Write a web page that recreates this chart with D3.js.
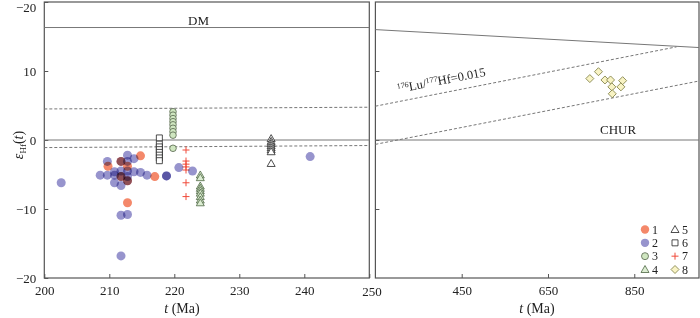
<!DOCTYPE html>
<html>
<head>
<meta charset="utf-8">
<script src="https://cdn.jsdelivr.net/npm/d3@7"></script>
<style>
body { margin: 0; background: #fff; }
svg { font-family: "Liberation Serif", "DejaVu Serif", serif; }
</style>
</head>
<body>
<svg width="700" height="318"></svg>
<script>
// series data [t (Ma), epsilon Hf(t)]
var s1 = [[209.8,-3.8],[214.8,-2.3],[217.0,-5.3],[212.8,-9.1],[211.8,-3.1],[211.8,-5.3],
          [212.8,-3.8],[212.8,-5.9]];
var s2 = [[202.6,-6.2],[209.7,-3.1],[208.6,-5.1],[209.7,-5.1],[210.8,-4.6],[210.8,-5.1],[210.8,-6.2],
          [211.8,-6.6],[211.8,-10.9],[212.8,-10.8],[211.8,-16.8],[212.8,-2.2],[213.8,-2.7],
          [213.8,-4.6],[214.8,-4.7],[215.8,-5.1],[218.8,-5.2],[218.8,-5.2],[220.7,-4.0],[222.8,-4.5],
          [240.9,-2.4],[211.8,-3.1],[211.8,-4.5],[211.8,-5.3],[212.8,-3.1],[212.8,-4.5],[212.8,-5.3],[212.8,-5.9]];
var s3 = [[219.8,4.1],[219.8,3.6],[219.8,3.1],[219.8,2.65],[219.8,2.2],[219.8,1.7],[219.8,1.2],[219.8,0.7],[219.8,-1.2]];
var s4 = [[224,-5.07],[224,-5.46],[224,-6.67],[224,-7.0],[224,-7.35],[224,-7.7],[224,-8.2],[224,-8.7],[224,-9.1]];
var s5 = [[234.9,0.2],[234.9,-0.2],[234.9,-0.5],[234.9,-0.8],[234.9,-1.1],[234.9,-1.4],[234.9,-1.7],[234.9,-3.4]];
var s6 = [[217.7,0.3],[217.7,-0.6],[217.7,-1.0],[217.7,-1.4],[217.7,-1.8],[217.7,-2.2],[217.7,-2.6],[217.7,-3.0]];
var s7 = [[221.8,-1.45],[221.8,-3.05],[221.8,-3.5],[221.8,-3.9],[221.8,-4.35],[221.8,-6.2],[221.8,-8.2]];
var s8 = [[747,8.9],[767,9.9],[782,8.7],[795,8.7],[798,7.7],[799,6.7],[823,8.6],[819,7.7]];

// reference lines
var dmLeft = [[200,16.3],[250,16.3]];
var dmRight = [[250,16.0],[1000,13.4]];
var churLeft = [[200,0],[250,0]];
var churRight = [[250,0],[1000,0]];
var upLeft = [[200,4.5],[250,4.75]];
var lowLeft = [[200,-1.1],[250,-0.8]];
var upRight = [[250,4.9],[948,13.5]];
var lowRight = [[250,-0.63],[1000,8.55]];

var yTicks = [20,10,0,-10,-20];
var yTickLabels = ["\u221220","10","0","\u221210","\u221220"];
var xTicksLeft = [200,210,220,230,240,250];
var xTicksRight = [450,650,850];
var legendItems = ["1","2","3","4","5","6","7","8"];

var svg = d3.select('svg');
var frame = '#555';

var y = d3.scaleLinear().domain([-20,20]).range([278,2]);
var xL = d3.scaleLinear().domain([200,250]).range([44.3,369.3]);
var xR = d3.scaleLinear().domain([250,1000]).range([375.4,699]);

// frames
[xL, xR].forEach(function(x){
    svg.append('rect')
        .attr('x', x.range()[0]).attr('y', y(20))
        .attr('width', x.range()[1]-x.range()[0]).attr('height', y(-20)-y(20))
        .attr('fill','none').attr('stroke',frame).attr('stroke-width',1.2);
});

// axes
var yAxisL = d3.axisLeft(y).tickValues(yTicks).tickSize(-4).tickPadding(8)
    .tickFormat(function(d,i){ return yTickLabels[i]; });
var gyl = svg.append('g').attr('transform','translate('+xL.range()[0]+',0)').call(yAxisL);
var yAxisR = d3.axisLeft(y).tickValues([10,0,-10]).tickSize(-4).tickFormat('');
var gyr = svg.append('g').attr('transform','translate('+xR.range()[0]+',0)').call(yAxisR);

var xAxisL = d3.axisBottom(xL).tickValues(xTicksLeft).tickSize(-4).tickPadding(8)
    .tickFormat(function(d){ return d==250 ? '' : d; });
var gxl = svg.append('g').attr('transform','translate(0,'+y(-20)+')').call(xAxisL);
var xAxisR = d3.axisBottom(xR).tickValues(xTicksRight).tickSize(-4).tickPadding(8);
var gxr = svg.append('g').attr('transform','translate(0,'+y(-20)+')').call(xAxisR);

[gyl,gyr,gxl,gxr].forEach(function(g){
    g.select('.domain').remove();
    g.selectAll('line').attr('stroke',frame);
    g.selectAll('text').attr('fill','#222').style('font-size','13px')
        .style('font-family','"Liberation Serif", serif');
});
// top label sits a little below its tick so it is not clipped
gyl.selectAll('.tick').filter(d=>d==20).select('text').attr('dy','0.75em');
svg.append('text').attr('x',372).attr('y',y(-20)+18).attr('text-anchor','middle')
    .attr('fill','#222').style('font-size','13px').text('250');

// reference lines
function drawLine(data, x, dashed){
    var line = d3.line().x(d=>x(d[0])).y(d=>y(d[1]));
    svg.append('path').datum(data).attr('d',line).attr('fill','none')
        .attr('stroke','#777').attr('stroke-width',1)
        .attr('stroke-dasharray', dashed ? '3,2' : null);
}
drawLine(dmLeft, xL, false);
drawLine(churLeft, xL, false);
drawLine(upLeft, xL, true);
drawLine(lowLeft, xL, true);
drawLine(dmRight, xR, false);
drawLine(churRight, xR, false);
drawLine(upRight, xR, true);
drawLine(lowRight, xR, true);

svg.append('text').attr('x',188).attr('y',25).style('font-size','13px').attr('fill','#222').text('DM');
svg.append('text').attr('x',600).attr('y',134).style('font-size','13px').attr('fill','#222').text('CHUR');
var lu = svg.append('text').attr('transform','translate(398,93) rotate(-11)')
    .style('font-size','12.5px').attr('fill','#222');
lu.append('tspan').attr('dy',-4).style('font-size','8px').text('176');
lu.append('tspan').attr('dy',4).text('Lu/');
lu.append('tspan').attr('dy',-4).style('font-size','8px').text('177');
lu.append('tspan').attr('dy',4).text('Hf=0.015');

// symbols
var style = {
    '1': {shape:'circle', fill:'#f4886a', stroke:'none', blend:true},
    '2': {shape:'circle', fill:'#9794cd', stroke:'none', blend:true},
    '3': {shape:'circle', fill:'#cfe6c0', stroke:'#56654c'},
    '4': {shape:'tri', fill:'#dcedd2', stroke:'#4c6642'},
    '5': {shape:'tri', fill:'#fff', stroke:'#222'},
    '6': {shape:'sq', fill:'#fff', stroke:'#222'},
    '7': {shape:'plus', fill:'none', stroke:'#f04a3a'},
    '8': {shape:'dia', fill:'#f8f3c4', stroke:'#77773c'}
};
var shapes = {
    tri: 'M0,-4L4,3L-4,3Z',
    sq: 'M-3,-3H3V3H-3Z',
    plus: 'M-3.5,0H3.5M0,-3.5V3.5',
    dia: 'M0,-4L4,0L0,4L-4,0Z'
};

function drawPoints(data, key, x, r){
    var st = style[key];
    var g = svg.append('g').attr('class','s'+key);
    if(st.shape=='circle'){
        g.selectAll('circle').data(data).enter().append('circle')
            .attr('cx',d=>x(d[0])).attr('cy',d=>y(d[1])).attr('r',r)
            .attr('fill',st.fill).attr('stroke',st.stroke).attr('stroke-width',0.8)
            .style('mix-blend-mode', st.blend ? 'multiply' : null);
    } else {
        g.selectAll('path').data(data).enter().append('path')
            .attr('d',shapes[st.shape])
            .attr('transform',d=>'translate('+x(d[0])+','+y(d[1])+')')
            .attr('fill',st.fill).attr('stroke',st.stroke)
            .attr('stroke-width', st.shape=='plus' ? 1 : 0.8);
    }
}
drawPoints(s3,'3',xL,3.3);
drawPoints(s6,'6',xL);
drawPoints(s5,'5',xL);
drawPoints(s4,'4',xL);
drawPoints(s7,'7',xL);
drawPoints(s2,'2',xL,4.5);
drawPoints(s1,'1',xL,4.5);
drawPoints(s8,'8',xR);

// legend
var legX = [645,675], legY = d3.scaleLinear().domain([0,3]).range([229.5,269.5]);
legendItems.forEach(function(k,i){
    var col = Math.floor(i/4), row = i%4;
    var lx = legX[col], ly = legY(row);
    drawPoints([[xR.invert(lx), y.invert(ly)]], k, xR, k=='3' ? 3.5 : 4.2);
    svg.append('text').attr('x',lx+7).attr('y',ly+4.3).style('font-size','12px').attr('fill','#222').text(k);
});

// axis titles
var yl = svg.append('text').attr('transform','translate(23,145) rotate(-90)')
    .attr('text-anchor','middle').style('font-size','14px').attr('fill','#222');
yl.append('tspan').style('font-style','italic').text('\u03b5');
yl.append('tspan').attr('dy',3).style('font-size','9px').text('Hf');
yl.append('tspan').attr('dy',-3).text('(');
yl.append('tspan').style('font-style','italic').text('t');
yl.append('tspan').text(')');

[[182,xL],[537,xR]].forEach(function(p){
    var t = svg.append('text').attr('x',p[0]).attr('y',313).attr('text-anchor','middle')
        .style('font-size','14px').attr('fill','#222');
    t.append('tspan').style('font-style','italic').text('t');
    t.append('tspan').text(' (Ma)');
});
</script>
</body>
</html>
